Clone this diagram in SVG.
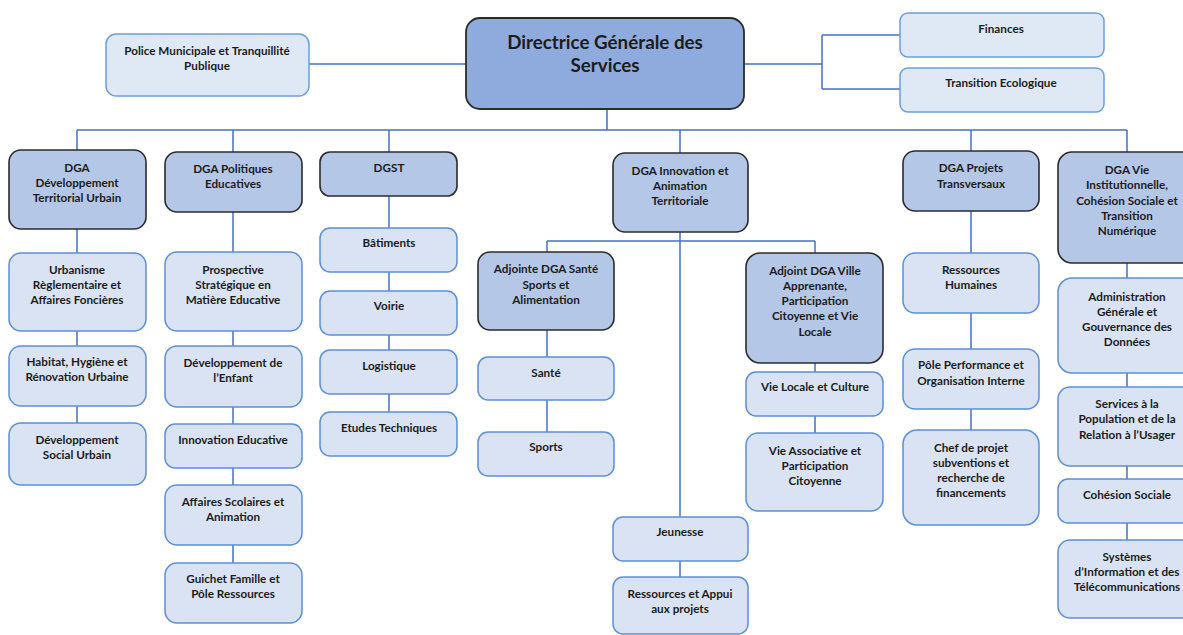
<svg xmlns="http://www.w3.org/2000/svg" width="1183" height="635" viewBox="0 0 1183 635">
<style>
.c{fill:none;stroke:#4472c4;stroke-width:1.5}
.dg{fill:#8faadc;stroke:#2b2b2b;stroke-width:1.8}
.dga{fill:#b4c7e7;stroke:#2b2b2b;stroke-width:1.6}
.sub{fill:#dae3f3;stroke:#5b8fd9;stroke-width:1.5}
.top{fill:#dfe9f6;stroke:#6a9fe0;stroke-width:1.5}
text{font-family:Lato,"Open Sans","Liberation Sans",sans-serif;font-weight:bold;font-size:11.7px;fill:#1c1c1c;text-anchor:middle;dominant-baseline:central}
.big{font-size:18.8px}
</style>
<rect width="1183" height="635" fill="#fff"/>
<g id="connectors">
<path class="c" d="M309,64H466M744,64H822M822,35V89M822,35H900M822,89H900M607,109V130M77,130H1127M77,130V150M233,130V152M389,130V152M680,130V153M971,130V151M1127,130V152"/>
<path class="c" d="M77,229V253M77,331V346M77,406V423M233,212V252M233,331V346M233,407V424M233,468V485M233,545V563M389,196V228M389,272V291M389,335V350M389,394V412"/>
<path class="c" d="M680,232V517M547,241H815M547,241V252M815,241V253M680,561V577M547,330V357M547,400V432M815,363V372M815,416V433M971,211V253M971,313V349M971,409V430M1127,263V278M1127,373V387M1127,466V479M1127,523V540"/>
</g>
<g id="dgs"><rect class="dg" x="466" y="18" width="278" height="91" rx="14"/><text class="big" x="605" y="41">Directrice Générale des</text><text class="big" x="605" y="64">Services</text></g>
<g id="police"><rect class="top" x="106" y="34" width="203" height="62" rx="10"/><text x="207" y="50">Police Municipale et Tranquillité</text><text x="207" y="65">Publique</text></g>
<g id="finances"><rect class="top" x="900" y="13" width="204" height="44" rx="8"/><text x="1001" y="28">Finances</text></g>
<g id="transition"><rect class="top" x="900" y="68" width="204" height="44" rx="8"/><text x="1001" y="82">Transition Ecologique</text></g>

<g id="dga-dtu"><rect class="dga" x="9" y="150" width="137" height="79" rx="12"/><text x="77" y="167">DGA</text><text x="77" y="182">Développement</text><text x="77" y="197">Territorial Urbain</text></g>
<g id="urbanisme"><rect class="sub" x="9" y="253" width="137" height="78" rx="12"/><text x="77" y="269">Urbanisme</text><text x="77" y="284">Règlementaire et</text><text x="77" y="299">Affaires Foncières</text></g>
<g id="habitat"><rect class="sub" x="9" y="346" width="137" height="60" rx="12"/><text x="77" y="361">Habitat, Hygiène et</text><text x="77" y="376">Rénovation Urbaine</text></g>
<g id="dsu"><rect class="sub" x="9" y="423" width="137" height="62" rx="12"/><text x="77" y="439">Développement</text><text x="77" y="454">Social Urbain</text></g>

<g id="dga-pe"><rect class="dga" x="165" y="152" width="137" height="60" rx="12"/><text x="233" y="168">DGA Politiques</text><text x="233" y="183">Educatives</text></g>
<g id="prospective"><rect class="sub" x="165" y="252" width="137" height="79" rx="12"/><text x="233" y="269">Prospective</text><text x="233" y="284">Stratégique en</text><text x="233" y="299">Matière Educative</text></g>
<g id="enfant"><rect class="sub" x="165" y="346" width="137" height="61" rx="12"/><text x="233" y="362">Développement de</text><text x="233" y="377">l’Enfant</text></g>
<g id="innov-edu"><rect class="sub" x="165" y="424" width="137" height="44" rx="10"/><text x="233" y="439">Innovation Educative</text></g>
<g id="scolaires"><rect class="sub" x="165" y="485" width="137" height="60" rx="12"/><text x="233" y="501">Affaires Scolaires et</text><text x="233" y="516">Animation</text></g>
<g id="guichet"><rect class="sub" x="165" y="563" width="137" height="60" rx="12"/><text x="233" y="578">Guichet Famille et</text><text x="233" y="593">Pôle Ressources</text></g>

<g id="dgst"><rect class="dga" x="320" y="152" width="137" height="44" rx="10"/><text x="389" y="167">DGST</text></g>
<g id="batiments"><rect class="sub" x="320" y="228" width="137" height="44" rx="10"/><text x="389" y="242">Bâtiments</text></g>
<g id="voirie"><rect class="sub" x="320" y="291" width="137" height="44" rx="10"/><text x="389" y="305">Voirie</text></g>
<g id="logistique"><rect class="sub" x="320" y="350" width="137" height="44" rx="10"/><text x="389" y="365">Logistique</text></g>
<g id="etudes"><rect class="sub" x="320" y="412" width="137" height="44" rx="10"/><text x="389" y="427">Etudes Techniques</text></g>

<g id="dga-iat"><rect class="dga" x="613" y="153" width="135" height="79" rx="12"/><text x="680" y="170">DGA Innovation et</text><text x="680" y="185">Animation</text><text x="680" y="200">Territoriale</text></g>
<g id="adj-sante"><rect class="dga" x="478" y="252" width="136" height="78" rx="12"/><text x="546" y="268">Adjointe DGA Santé</text><text x="546" y="284">Sports et</text><text x="546" y="299">Alimentation</text></g>
<g id="sante"><rect class="sub" x="478" y="357" width="136" height="43" rx="10"/><text x="546" y="372">Santé</text></g>
<g id="sports"><rect class="sub" x="478" y="432" width="136" height="44" rx="10"/><text x="546" y="446">Sports</text></g>
<g id="adj-ville"><rect class="dga" x="746" y="253" width="137" height="110" rx="14"/><text x="815" y="270">Adjoint DGA Ville</text><text x="815" y="285">Apprenante,</text><text x="815" y="300">Participation</text><text x="815" y="315">Citoyenne et Vie</text><text x="815" y="331">Locale</text></g>
<g id="vie-locale"><rect class="sub" x="746" y="372" width="137" height="44" rx="10"/><text x="815" y="386">Vie Locale et Culture</text></g>
<g id="vie-asso"><rect class="sub" x="746" y="433" width="137" height="78" rx="12"/><text x="815" y="450">Vie Associative et</text><text x="815" y="465">Participation</text><text x="815" y="480">Citoyenne</text></g>
<g id="jeunesse"><rect class="sub" x="613" y="517" width="135" height="44" rx="10"/><text x="680" y="531">Jeunesse</text></g>
<g id="ressources-appui"><rect class="sub" x="613" y="577" width="135" height="57" rx="10"/><text x="680" y="593">Ressources et Appui</text><text x="680" y="608">aux projets</text></g>

<g id="dga-pt"><rect class="dga" x="903" y="151" width="136" height="60" rx="12"/><text x="971" y="167">DGA Projets</text><text x="971" y="183">Transversaux</text></g>
<g id="rh"><rect class="sub" x="903" y="253" width="136" height="60" rx="12"/><text x="971" y="269">Ressources</text><text x="971" y="284">Humaines</text></g>
<g id="performance"><rect class="sub" x="903" y="349" width="136" height="60" rx="12"/><text x="971" y="364">Pôle Performance et</text><text x="971" y="380">Organisation Interne</text></g>
<g id="chef-projet"><rect class="sub" x="903" y="430" width="136" height="95" rx="14"/><text x="971" y="447">Chef de projet</text><text x="971" y="462">subventions et</text><text x="971" y="477">recherche de</text><text x="971" y="492">financements</text></g>

<g id="dga-vi"><rect class="dga" x="1058" y="152" width="138" height="111" rx="14"/><text x="1127" y="169">DGA Vie</text><text x="1127" y="184">Institutionnelle,</text><text x="1127" y="200">Cohésion Sociale et</text><text x="1127" y="215">Transition</text><text x="1127" y="230">Numérique</text></g>
<g id="admin"><rect class="sub" x="1058" y="278" width="138" height="95" rx="14"/><text x="1127" y="296">Administration</text><text x="1127" y="311">Générale et</text><text x="1127" y="326">Gouvernance des</text><text x="1127" y="341">Données</text></g>
<g id="services-pop"><rect class="sub" x="1058" y="387" width="138" height="79" rx="12"/><text x="1127" y="403">Services à la</text><text x="1127" y="418">Population et de la</text><text x="1127" y="434">Relation à l’Usager</text></g>
<g id="cohesion"><rect class="sub" x="1058" y="479" width="138" height="44" rx="10"/><text x="1127" y="494">Cohésion Sociale</text></g>
<g id="si"><rect class="sub" x="1058" y="540" width="138" height="78" rx="12"/><text x="1127" y="556">Systèmes</text><text x="1127" y="571">d’Information et des</text><text x="1127" y="586">Télécommunications</text></g>
</svg>
